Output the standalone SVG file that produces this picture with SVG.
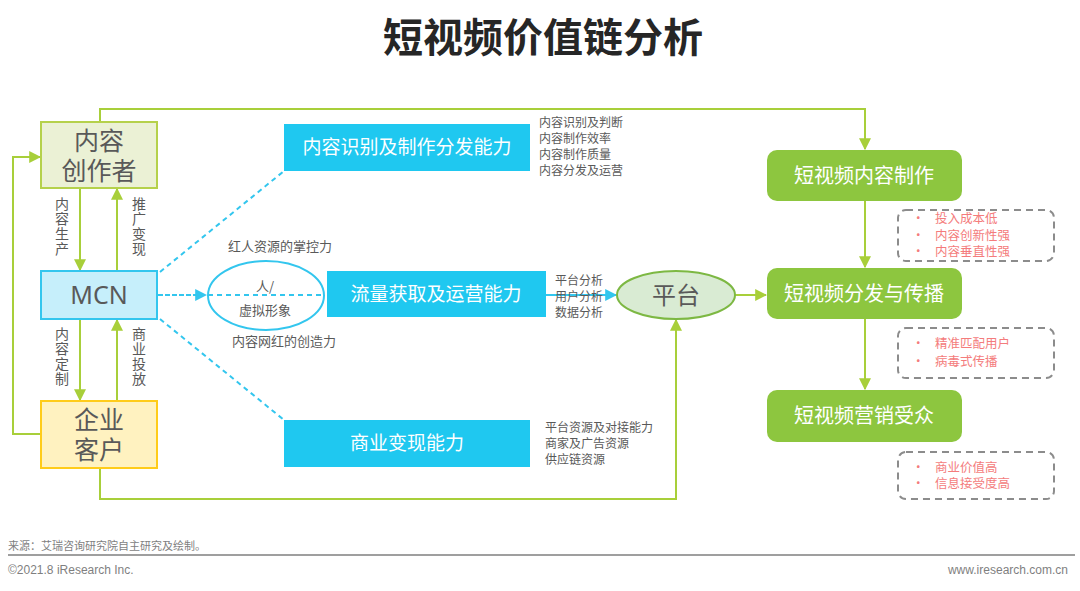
<svg xmlns="http://www.w3.org/2000/svg" width="1080" height="591" viewBox="0 0 1080 591">
<defs>
<style>
text{font-family:"Noto Sans CJK SC","Microsoft YaHei",sans-serif;}
.t{font-size:40px;font-weight:bold;fill:#262626;text-anchor:middle}
.big{font-size:25px;fill:#595959;text-anchor:middle}
.w{font-size:19px;fill:#fff;text-anchor:middle}
.s{font-size:12px;fill:#595959}
.sm{font-size:13px;fill:#595959;text-anchor:middle}
.v{font-size:14px;fill:#595959;writing-mode:vertical-rl;letter-spacing:1px}
.r{font-size:12.5px;fill:#F47C7C}
.g{stroke:#A8CF3A;stroke-width:2;fill:none}
.bd{stroke:#33C6EE;stroke-width:2;fill:none;stroke-dasharray:5,4}
.gb{fill:#8DC63F}
.cb{fill:#1FC8F0}
.db{fill:none;stroke:#8C8C8C;stroke-width:2;stroke-dasharray:7,5}
.f{font-family:"Liberation Sans",Arial,sans-serif;font-size:12px;fill:#7F7F7F}
</style>
<marker id="agL" viewBox="0 0 10 10" refX="9" refY="5" markerWidth="12" markerHeight="12" orient="auto" markerUnits="userSpaceOnUse"><path d="M0,0L10,5L0,10z" fill="#A8CF3A"/></marker>
<marker id="ab" viewBox="0 0 10 10" refX="9" refY="5" markerWidth="12" markerHeight="12" orient="auto" markerUnits="userSpaceOnUse"><path d="M0,0L10,5L0,10z" fill="#33C6EE"/></marker>
</defs>
<rect width="1080" height="591" fill="#fff"/>
<text class="t" x="543" y="52">短视频价值链分析</text>

<g id="connectors">
<path class="g" d="M80,188V270" marker-end="url(#agL)"/>
<path class="g" d="M117,271V189" marker-end="url(#agL)"/>
<path class="g" d="M80,319V400" marker-end="url(#agL)"/>
<path class="g" d="M117,401V320" marker-end="url(#agL)"/>
<path class="g" d="M41,434H13V157H40" marker-end="url(#agL)"/>
<path class="g" d="M100,122V109H865V149" marker-end="url(#agL)"/>
<path class="g" d="M100,468V499H676V320" marker-end="url(#agL)"/>
<path class="g" d="M735,295H766" marker-end="url(#agL)"/>
<path class="g" d="M865,201V267" marker-end="url(#agL)"/>
<path class="g" d="M865,319V389" marker-end="url(#agL)"/>
<path class="bd" d="M160,272L284,171"/>
<path class="bd" d="M160,319L284,420"/>
<path d="M158,295H206" stroke="#33C6EE" stroke-width="2" stroke-dasharray="5,2" fill="none" marker-end="url(#ab)"/>
<path d="M546,295H616" stroke="#33C6EE" stroke-width="2" fill="none" marker-end="url(#ab)"/>
</g>

<g id="labels-left">
<text class="v" x="62" y="197">内容生产</text>
<text class="v" x="139" y="197">推广变现</text>
<text class="v" x="62" y="327">内容定制</text>
<text class="v" x="139" y="327">商业投放</text>
</g>

<g id="creator">
<rect x="41" y="122" width="116" height="66" fill="#EBF1D5" stroke="#B5D14B" stroke-width="2"/>
<text class="big" x="99" y="150">内容</text>
<text class="big" x="99" y="180">创作者</text>
</g>
<g id="mcn">
<rect x="41" y="271" width="116" height="48" fill="#C6EFFB" stroke="#33C6EE" stroke-width="2"/>
<text class="big" x="99" y="304" style="font-family:'Noto Sans',sans-serif">MCN</text>
</g>
<g id="client">
<rect x="41" y="401" width="116" height="67" fill="#FFF2C0" stroke="#FFCC1A" stroke-width="2"/>
<text class="big" x="99" y="429">企业</text>
<text class="big" x="99" y="459">客户</text>
</g>

<g id="persona">
<ellipse cx="266" cy="295.5" rx="58" ry="34.5" fill="#fff" stroke="#33C6EE" stroke-width="2"/>
<path class="bd" d="M208,295H324"/>
<text class="sm" x="265" y="291">人/</text>
<text class="sm" x="265" y="315">虚拟形象</text>
<text class="sm" x="280" y="251">红人资源的掌控力</text>
<text class="sm" x="284" y="346">内容网红的创造力</text>
</g>

<g id="ability1">
<rect class="cb" x="284" y="124" width="246" height="47"/>
<text class="w" x="407" y="154">内容识别及制作分发能力</text>
<text class="s"><tspan x="539" y="127">内容识别及判断</tspan><tspan x="539" y="143">内容制作效率</tspan><tspan x="539" y="159">内容制作质量</tspan><tspan x="539" y="175">内容分发及运营</tspan></text>
</g>
<g id="ability2">
<rect class="cb" x="327" y="271" width="219" height="46"/>
<text class="w" x="436" y="301">流量获取及运营能力</text>
<text class="s"><tspan x="555" y="285">平台分析</tspan><tspan x="555" y="301">用户分析</tspan><tspan x="555" y="317">数据分析</tspan></text>
</g>
<g id="ability3">
<rect class="cb" x="284" y="420" width="246" height="47"/>
<text class="w" x="407" y="450">商业变现能力</text>
<text class="s"><tspan x="545" y="432">平台资源及对接能力</tspan><tspan x="545" y="448">商家及广告资源</tspan><tspan x="545" y="464">供应链资源</tspan></text>
</g>

<g id="platform">
<ellipse cx="676" cy="295" rx="59" ry="24" fill="#D9EBD3" stroke="#7DB843" stroke-width="2"/>
<text class="big" x="676" y="304" style="font-size:24px">平台</text>
</g>

<g id="produce">
<rect class="gb" x="767" y="150" width="195" height="51" rx="10"/>
<text class="w" x="864" y="183" style="font-size:20px">短视频内容制作</text>
</g>
<g id="distribute">
<rect class="gb" x="767" y="268" width="195" height="51" rx="10"/>
<text class="w" x="864" y="301" style="font-size:20px">短视频分发与传播</text>
</g>
<g id="audience">
<rect class="gb" x="767" y="390" width="195" height="52" rx="10"/>
<text class="w" x="864" y="423" style="font-size:20px">短视频营销受众</text>
</g>

<g id="note1">
<rect class="db" x="898" y="210" width="156" height="51" rx="8"/>
<text class="r"><tspan x="912" y="223">•</tspan><tspan x="935" y="223">投入成本低</tspan><tspan x="912" y="240">•</tspan><tspan x="935" y="240">内容创新性强</tspan><tspan x="912" y="256">•</tspan><tspan x="935" y="256">内容垂直性强</tspan></text>
</g>
<g id="note2">
<rect class="db" x="898" y="328" width="156" height="50" rx="8"/>
<text class="r"><tspan x="912" y="348">•</tspan><tspan x="935" y="348">精准匹配用户</tspan><tspan x="912" y="366">•</tspan><tspan x="935" y="366">病毒式传播</tspan></text>
</g>
<g id="note3">
<rect class="db" x="898" y="452" width="156" height="47" rx="8"/>
<text class="r"><tspan x="912" y="472">•</tspan><tspan x="935" y="472">商业价值高</tspan><tspan x="912" y="488">•</tspan><tspan x="935" y="488">信息接受度高</tspan></text>
</g>

<g id="footer">
<text class="f" x="8" y="550" style="font-family:'Noto Sans CJK SC',sans-serif;font-size:11px">来源：艾瑞咨询研究院自主研究及绘制。</text>
<line x1="8" y1="555" x2="1075" y2="555" stroke="#7F7F7F" stroke-width="1.5"/>
<text class="f" x="8" y="574">©2021.8 iResearch Inc.</text>
<text class="f" x="1068" y="574" text-anchor="end">www.iresearch.com.cn</text>
</g>
</svg>
